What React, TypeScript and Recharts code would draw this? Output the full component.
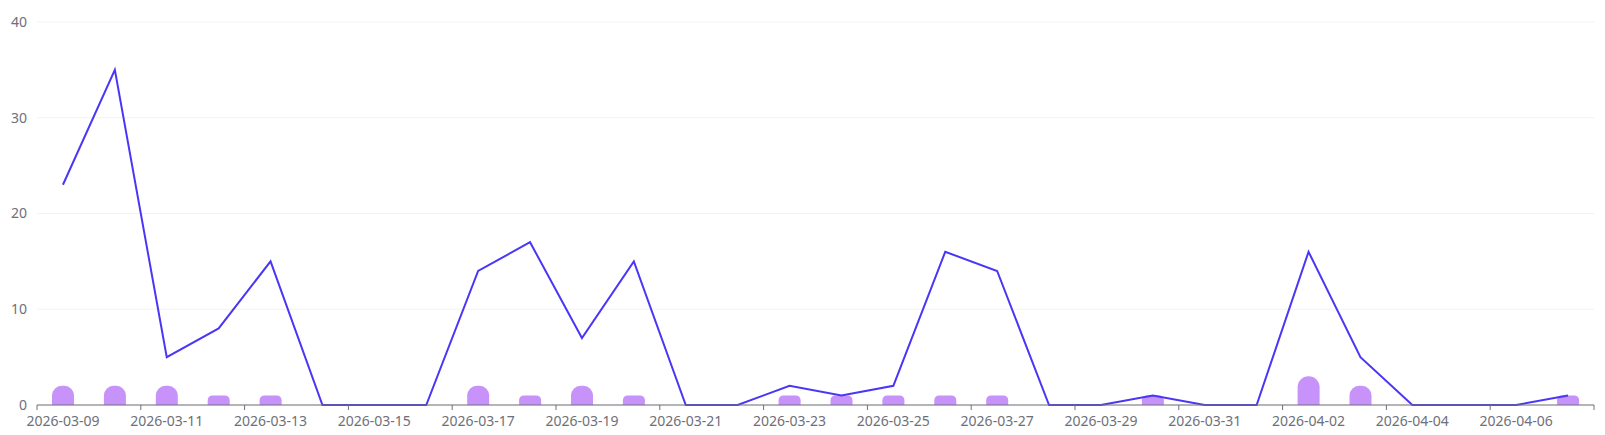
import { Bar, CartesianGrid, ComposedChart, Line, XAxis, YAxis } from "recharts";

const dates = [
  "2026-03-09", "2026-03-10", "2026-03-11", "2026-03-12", "2026-03-13",
  "2026-03-14", "2026-03-15", "2026-03-16", "2026-03-17", "2026-03-18",
  "2026-03-19", "2026-03-20", "2026-03-21", "2026-03-22", "2026-03-23",
  "2026-03-24", "2026-03-25", "2026-03-26", "2026-03-27", "2026-03-28",
  "2026-03-29", "2026-03-30", "2026-03-31", "2026-04-01", "2026-04-02",
  "2026-04-03", "2026-04-04", "2026-04-05", "2026-04-06", "2026-04-07",
];

const lineValues = [
  23, 35, 5, 8, 15, 0, 0, 0, 14, 17,
  7, 15, 0, 0, 2, 1, 2, 16, 14, 0,
  0, 1, 0, 0, 16, 5, 0, 0, 0, 1,
];

const barValues = [
  2, 2, 2, 1, 1, 0, 0, 0, 2, 1,
  2, 1, 0, 0, 1, 1, 1, 1, 1, 0,
  0, 1, 0, 0, 3, 2, 0, 0, 0, 1,
];

const yTicks = [0, 10, 20, 30, 40];

const data = dates.map((date, i) => ({
  date,
  total: lineValues[i],
  count: barValues[i],
}));

const W = 1605;
const H = 435;
const margin = { top: 22, right: 11, left: 0, bottom: 0 };
const Y_AXIS_W = 37;
const X_AXIS_H = 30;
const band = (W - margin.left - margin.right - Y_AXIS_W) / dates.length;

const axisColor = "#6E7079";
const font = "'Noto Sans', sans-serif";

function DateTick(props: any) {
  const { x, y, payload, index } = props;
  const half = band / 2;
  const even = index % 2 === 0;
  return (
    <g>
      {even && (
        <line x1={x - half} x2={x - half} y1={y} y2={y + 5} stroke={axisColor} />
      )}
      {index === dates.length - 1 && (
        <line x1={x + half} x2={x + half} y1={y} y2={y + 5} stroke={axisColor} />
      )}
      {even && (
        <text
          x={x}
          y={y + 21}
          textAnchor="middle"
          fill={axisColor}
          fontSize={14}
          fontFamily={font}
        >
          {payload.value}
        </text>
      )}
    </g>
  );
}

export default function App() {
  return (
    <div style={{ position: "absolute", left: 0, top: 0, width: W, height: H }}>
      <ComposedChart width={W} height={H} data={data} margin={margin}>
        <CartesianGrid vertical={false} stroke="#F2F2F2" />
        <XAxis
          dataKey="date"
          height={X_AXIS_H}
          interval={0}
          tickSize={0}
          tickMargin={0}
          tickLine={false}
          axisLine={{ stroke: axisColor }}
          tick={(p: any) => <DateTick {...p} />}
        />
        <YAxis
          width={Y_AXIS_W}
          domain={[0, 40]}
          ticks={yTicks}
          axisLine={false}
          tickLine={false}
          tickSize={0}
          tickMargin={10}
          tick={{ fill: axisColor, fontSize: 14, fontFamily: font }}
        />
        <Bar
          dataKey="count"
          fill="#C792F9"
          barSize={22}
          radius={[11, 11, 0, 0]}
          isAnimationActive={false}
        />
        <Line
          dataKey="total"
          type="linear"
          stroke="#4A36F6"
          strokeWidth={2}
          dot={false}
          activeDot={false}
          isAnimationActive={false}
        />
      </ComposedChart>
    </div>
  );
}
